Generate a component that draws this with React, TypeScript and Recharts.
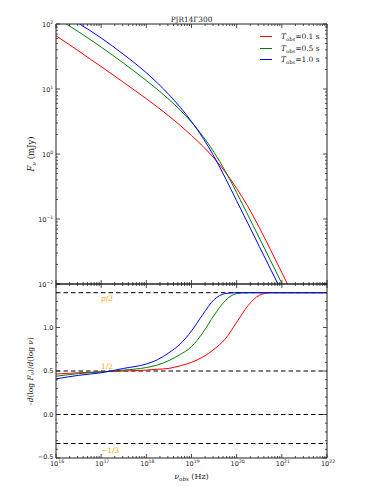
import { LineChart, Line, XAxis, YAxis, ReferenceLine, Legend } from "recharts";

// log10 of observed frequency (Hz), shared by every series
const LOG_NU = [
  16, 16.5, 17, 17.5, 18, 18.25, 18.5, 18.75, 19, 19.25, 19.5, 19.75, 20,
  20.25, 20.5, 20.75, 21, 21.25, 21.5, 22,
];

// top panel: log10 F_nu (mJy) (null once below 1e-2)
const FLUX_T01 = [
  1.82, 1.585, 1.345, 1.1, 0.85, 0.72, 0.585, 0.44, 0.285, 0.12, -0.065,
  -0.28, -0.53, -0.81, -1.13, -1.475, -1.825, -2.175, null, null,
];
const FLUX_T05 = [
  2.1, 1.88, 1.645, 1.395, 1.13, 0.99, 0.84, 0.675, 0.49, 0.275, 0.025,
  -0.265, -0.595, -0.94, -1.29, -1.64, -1.99, -2.34, null, null,
];
const FLUX_T10 = [
  2.22, 2.01, 1.785, 1.53, 1.25, 1.09, 0.915, 0.72, 0.5, 0.25, -0.04, -0.37,
  -0.72, -1.07, -1.42, -1.77, -2.12, null, null, null,
];

// bottom panel: -d(log F)/d(log nu)
const SLOPE_T01 = [
  0.465, 0.48, 0.49, 0.5, 0.51, 0.52, 0.53, 0.56, 0.6, 0.66, 0.75, 0.87, 1.06,
  1.25, 1.37, 1.4, 1.4, 1.4, 1.4, 1.4,
];
const SLOPE_T05 = [
  0.44, 0.47, 0.49, 0.51, 0.54, 0.57, 0.62, 0.69, 0.78, 0.94, 1.14, 1.31, 1.39,
  1.4, 1.4, 1.4, 1.4, 1.4, 1.4, 1.4,
];
const SLOPE_T10 = [
  0.41, 0.45, 0.48, 0.53, 0.58, 0.63, 0.71, 0.81, 0.96, 1.15, 1.32, 1.39, 1.4,
  1.4, 1.4, 1.4, 1.4, 1.4, 1.4, 1.4,
];

const T_OBS = ["0.1", "0.5", "1.0"];
const COLORS = ["#ff0000", "#008000", "#0000ff"];
const FLUX = [FLUX_T01, FLUX_T05, FLUX_T10];
const SLOPE = [SLOPE_T01, SLOPE_T05, SLOPE_T10];

const FREQ_DECADES = [16, 17, 18, 19, 20, 21, 22];
const FLUX_DECADES = [-2, -1, 0, 1, 2];
const MINOR_MULTIPLES = [2, 3, 4, 5, 6, 7, 8, 9];
const SLOPE_TICKS = [-0.5, 0, 0.5, 1, 1.5];
const SLOPE_TICK_LABELS = ["−0.5", "0.0", "0.5", "1.0", ""];
const SLOPE_MINOR = [0.1, 0.2, 0.3, 0.4];

const P_INDEX = 2.8;
const GUIDES = [P_INDEX / 2, 0.5, 0, -1 / 3];
const GUIDE_LABELS = ["p/2", "1/2", "", "−1/3"];
const GUIDE_LABEL_DY = [8.2, -2.5, 0, 9];

const TITLE = "PJR14Γ300";

const INK = "#222";
const SANS = "'DejaVu Sans', sans-serif";
const SERIF = "'DejaVu Serif', serif";

const logTicks = (decades: number[]) =>
  decades.flatMap((d, i) =>
    i === decades.length - 1
      ? [d]
      : [d, ...MINOR_MULTIPLES.map((m) => d + Math.log10(m))],
  );

const FREQ_TICKS = logTicks(FREQ_DECADES);
const FLUX_TICKS = logTicks(FLUX_DECADES);
const SLOPE_ALL_TICKS = SLOPE_TICKS.flatMap((v, i) =>
  i === SLOPE_TICKS.length - 1
    ? [v]
    : [v, ...SLOPE_MINOR.map((s) => Math.round((v + s) * 10) / 10)],
);

const topData = LOG_NU.map((nu, i) => ({
  nu,
  s0: FLUX[0][i],
  s1: FLUX[1][i],
  s2: FLUX[2][i],
}));
const bottomData = LOG_NU.map((nu, i) => ({
  nu,
  s0: SLOPE[0][i],
  s1: SLOPE[1][i],
  s2: SLOPE[2][i],
}));

const isWhole = (v: number) => Math.abs(v - Math.round(v)) < 1e-6;
const isHalf = (v: number) => isWhole(v * 2);

type Side = "left" | "right" | "top" | "bottom";

function mark(side: Side, x: number, y: number, len: number) {
  const dx = side === "left" ? len : side === "right" ? -len : 0;
  const dy = side === "top" ? len : side === "bottom" ? -len : 0;
  return (
    <line x1={x} y1={y} x2={x + dx} y2={y + dy} stroke={INK} strokeWidth={0.8} />
  );
}

function Pow10({ x, y, exp, anchor }: any) {
  return (
    <text x={x} y={y} textAnchor={anchor} fontFamily={SANS} fontSize={6.5} fill={INK}>
      10
      <tspan dy={-3} fontSize={4.6}>
        {exp < 0 ? `−${-exp}` : `${exp}`}
      </tspan>
    </text>
  );
}

// ticks point into the plot like matplotlib's "in" direction
const plainTick = (side: Side, major: (v: number) => boolean) => (p: any) => (
  <g>{mark(side, p.x, p.y, major(p.payload.value) ? 4 : 2)}</g>
);

const fluxLeftTick = (p: any) => {
  const v = p.payload.value;
  const major = isWhole(v);
  return (
    <g>
      {mark("left", p.x, p.y, major ? 4 : 2)}
      {major && <Pow10 x={p.x - 2.7} y={p.y + 2.7} exp={Math.round(v)} anchor="end" />}
    </g>
  );
};

const freqBottomTick = (p: any) => {
  const v = p.payload.value;
  const major = isWhole(v);
  return (
    <g>
      {mark("bottom", p.x, p.y, major ? 4 : 2)}
      {major && <Pow10 x={p.x + 1} y={p.y + 8} exp={Math.round(v)} anchor="middle" />}
    </g>
  );
};

const slopeLeftTick = (p: any) => {
  const v = p.payload.value;
  const major = isHalf(v);
  const idx = SLOPE_TICKS.findIndex((t) => Math.abs(t - v) < 1e-6);
  // lowest label sits in the corner, lift it clear of the 10^16 label
  const lift = idx === 0 ? 1.6 : 0;
  return (
    <g>
      {mark("left", p.x, p.y, major ? 4 : 2)}
      {major && idx >= 0 && (
        <text
          x={p.x - 2.5}
          y={p.y + 2.4 - lift}
          textAnchor="end"
          fontFamily={SANS}
          fontSize={6.5}
          fill={INK}
        >
          {SLOPE_TICK_LABELS[idx]}
        </text>
      )}
    </g>
  );
};

function TitleLabel({ viewBox }: any) {
  return (
    <text
      x={viewBox.x + viewBox.width / 2}
      y={viewBox.y + viewBox.height - 2.3}
      textAnchor="middle"
      fontFamily={SERIF}
      fontSize={7.3}
      fill={INK}
    >
      {TITLE}
    </text>
  );
}

function FluxAxisLabel({ viewBox }: any) {
  const cx = viewBox.x + 15;
  const cy = viewBox.y + viewBox.height / 2;
  return (
    <text
      x={cx}
      y={cy}
      transform={`rotate(-90 ${cx} ${cy})`}
      textAnchor="middle"
      dominantBaseline="central"
      fontFamily={SERIF}
      fontSize={8.5}
      fill={INK}
    >
      <tspan fontStyle="italic">F</tspan>
      <tspan fontStyle="italic" fontSize={6} dy={2}>
        ν
      </tspan>
      <tspan dy={-2}> (mJy)</tspan>
    </text>
  );
}

function SlopeAxisLabel({ viewBox }: any) {
  const cx = viewBox.x + 14;
  const cy = viewBox.y + viewBox.height / 2;
  return (
    <text
      x={cx}
      y={cy}
      transform={`rotate(-90 ${cx} ${cy})`}
      textAnchor="middle"
      dominantBaseline="central"
      fontFamily={SERIF}
      fontSize={7.5}
      fill={INK}
    >
      -<tspan fontStyle="italic">d</tspan>(log <tspan fontStyle="italic">F</tspan>
      <tspan fontStyle="italic" fontSize={5.5} dy={2}>
        ν
      </tspan>
      <tspan dy={-2}>)/</tspan>
      <tspan fontStyle="italic">d</tspan>(log <tspan fontStyle="italic">ν</tspan>)
    </text>
  );
}

function FreqAxisLabel({ viewBox }: any) {
  return (
    <text
      x={viewBox.x + viewBox.width / 2}
      y={viewBox.y + 20.5}
      textAnchor="middle"
      fontFamily={SERIF}
      fontSize={8}
      fill={INK}
    >
      <tspan fontStyle="italic">ν</tspan>
      <tspan fontSize={5.5} dy={2}>
        obs
      </tspan>
      <tspan dy={-2}> (Hz)</tspan>
    </text>
  );
}

const guideLabel = (i: number) => (p: any) => {
  const text = GUIDE_LABELS[i];
  if (!text) return null;
  return (
    <text
      x={p.viewBox.x + 45}
      y={p.viewBox.y + GUIDE_LABEL_DY[i]}
      fontFamily={SERIF}
      fontSize={7.5}
      fill="#ffa500"
    >
      {text.startsWith("p") ? (
        <>
          <tspan fontStyle="italic">p</tspan>
          {text.slice(1)}
        </>
      ) : (
        text
      )}
    </text>
  );
};

function LegendBox({ payload }: any) {
  return (
    <div style={{ fontFamily: SERIF, fontSize: 7.5, color: INK }}>
      {(payload || []).map((p: any) => (
        <div
          key={p.value}
          style={{ display: "flex", alignItems: "center", height: 11.7, whiteSpace: "nowrap" }}
        >
          <span
            style={{
              display: "inline-block",
              width: 12,
              borderTop: `1px solid ${p.color}`,
              marginRight: 9,
            }}
          />
          <span>
            <i>T</i>
            <span style={{ fontSize: 5.2, position: "relative", top: 2 }}>obs</span>=
            {p.value} s
          </span>
        </div>
      ))}
    </div>
  );
}

export default function App() {
  return (
    <div
      style={{
        position: "absolute",
        left: 0,
        top: 0,
        width: 374,
        height: 498,
        background: "#fff",
        overflow: "hidden",
      }}
    >
      <div style={{ position: "absolute", left: 0, top: 0 }}>
        <LineChart
          width={374}
          height={288}
          data={topData}
          margin={{ top: 20, right: 43, bottom: 0, left: 16 }}
        >
          <XAxis
            xAxisId="b"
            dataKey="nu"
            type="number"
            domain={[16, 22]}
            allowDataOverflow
            ticks={FREQ_TICKS}
            interval={0}
            height={4}
            tickSize={0}
            tickMargin={0}
            tickLine={false}
            axisLine={{ stroke: INK }}
            tick={plainTick("bottom", isWhole)}
          />
          <XAxis
            xAxisId="t"
            orientation="top"
            dataKey="nu"
            type="number"
            domain={[16, 22]}
            allowDataOverflow
            ticks={FREQ_TICKS}
            interval={0}
            height={4}
            tickSize={0}
            tickMargin={0}
            tickLine={false}
            axisLine={{ stroke: INK }}
            tick={plainTick("top", isWhole)}
            label={{ content: TitleLabel }}
          />
          <YAxis
            yAxisId="l"
            type="number"
            domain={[-2, 2]}
            allowDataOverflow
            ticks={FLUX_TICKS}
            interval={0}
            width={40}
            tickSize={0}
            tickMargin={0}
            tickLine={false}
            axisLine={{ stroke: INK }}
            tick={fluxLeftTick}
            label={{ content: FluxAxisLabel }}
          />
          <YAxis
            yAxisId="r"
            orientation="right"
            type="number"
            domain={[-2, 2]}
            allowDataOverflow
            ticks={FLUX_TICKS}
            interval={0}
            width={4}
            tickSize={0}
            tickMargin={0}
            tickLine={false}
            axisLine={{ stroke: INK }}
            tick={plainTick("right", isWhole)}
          />
          {T_OBS.map((t, i) => (
            <Line
              key={t}
              xAxisId="b"
              yAxisId="l"
              dataKey={`s${i}`}
              name={t}
              type="monotone"
              stroke={COLORS[i]}
              strokeWidth={1}
              dot={false}
              isAnimationActive={false}
            />
          ))}
          <Legend
            layout="vertical"
            align="center"
            verticalAlign="middle"
            wrapperStyle={{ left: 260, top: 30.5, width: 100 }}
            content={LegendBox}
          />
        </LineChart>
      </div>

      <div style={{ position: "absolute", left: 0, top: 280 }}>
        <LineChart
          width={374}
          height={218}
          data={bottomData}
          margin={{ top: 0, right: 43, bottom: 10, left: 16 }}
        >
          <XAxis
            xAxisId="b"
            dataKey="nu"
            type="number"
            domain={[16, 22]}
            allowDataOverflow
            ticks={FREQ_TICKS}
            interval={0}
            height={30}
            tickSize={0}
            tickMargin={0}
            tickLine={false}
            axisLine={{ stroke: INK }}
            tick={freqBottomTick}
            label={{ content: FreqAxisLabel }}
          />
          <XAxis
            xAxisId="t"
            orientation="top"
            dataKey="nu"
            type="number"
            domain={[16, 22]}
            allowDataOverflow
            ticks={FREQ_TICKS}
            interval={0}
            height={4}
            tickSize={0}
            tickMargin={0}
            tickLine={false}
            axisLine={{ stroke: INK }}
            tick={plainTick("top", isWhole)}
          />
          <YAxis
            yAxisId="l"
            type="number"
            domain={[-0.5, 1.5]}
            allowDataOverflow
            ticks={SLOPE_ALL_TICKS}
            interval={0}
            width={40}
            tickSize={0}
            tickMargin={0}
            tickLine={false}
            axisLine={{ stroke: INK }}
            tick={slopeLeftTick}
            label={{ content: SlopeAxisLabel }}
          />
          <YAxis
            yAxisId="r"
            orientation="right"
            type="number"
            domain={[-0.5, 1.5]}
            allowDataOverflow
            ticks={SLOPE_ALL_TICKS}
            interval={0}
            width={4}
            tickSize={0}
            tickMargin={0}
            tickLine={false}
            axisLine={{ stroke: INK }}
            tick={plainTick("right", isHalf)}
          />
          {GUIDES.map((g, i) => (
            <ReferenceLine
              key={i}
              xAxisId="b"
              yAxisId="l"
              y={g}
              stroke="#000"
              strokeWidth={1}
              strokeDasharray="4.5 3"
              label={guideLabel(i)}
            />
          ))}
          {T_OBS.map((t, i) => (
            <Line
              key={t}
              xAxisId="b"
              yAxisId="l"
              dataKey={`s${i}`}
              name={t}
              type="monotone"
              stroke={COLORS[i]}
              strokeWidth={1}
              dot={false}
              isAnimationActive={false}
            />
          ))}
        </LineChart>
      </div>
    </div>
  );
}
